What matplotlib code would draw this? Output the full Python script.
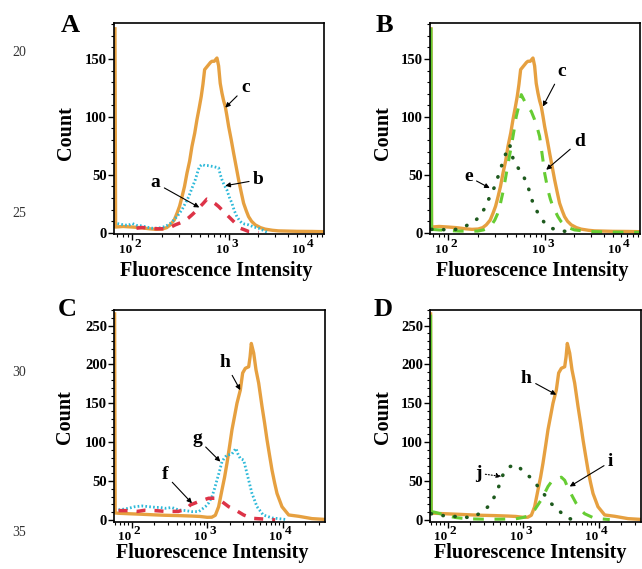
import matplotlib
matplotlib.use("Agg")
import matplotlib.pyplot as plt
from matplotlib.ticker import MultipleLocator, LogLocator, NullFormatter

plt.rcParams['font.family'] = ['Liberation Serif', 'DejaVu Serif']
plt.rcParams['font.weight'] = 'bold'

W, H = 642, 569

# ---- panel A / B : sample c (orange), a (red), b (cyan), d (green), e (dark green)
c_x = [66, 67, 80, 100, 120, 150, 175, 203, 226, 246, 270, 289, 307, 325, 345, 366, 390, 412,
       440, 464, 490, 514, 535, 557, 585, 612, 640, 663, 700, 747, 777, 807, 841, 875, 910, 946,
       986, 1050, 1110, 1180, 1250, 1330, 1407, 1500, 1584, 1700, 1855, 2100, 2350, 2800, 3228,
       5000, 7130, 9500]
c_y = [176, 5, 5.5, 5, 4.5, 3.5, 3, 3.3, 4.5, 6.9, 11, 17, 23, 31, 40, 51.5, 62, 74.5,
       86, 97.6, 108, 117.7, 128, 140.8, 143, 145, 147, 148, 148, 150.8, 144, 129, 120.6, 114, 109, 101,
       91.8, 80, 68.8, 57, 45.8, 35, 25.6, 19, 14, 10, 6.9, 4.5, 3.2, 2.2, 1.7,
       1.3, 1.2, 1]

b_x = [70, 80, 90, 100, 110, 125, 140, 160, 185, 219, 245, 267, 295, 325, 350, 381, 410, 446,
       470, 491, 523, 560, 600, 650, 700, 777, 810, 841, 890, 946, 1000, 1066, 1130, 1200, 1280,
       1352, 1450, 1584, 1800, 2009, 2200, 2350, 2500]
b_y = [8, 7, 6.5, 8, 6.5, 6, 5, 4, 4, 5.5, 8, 11, 15, 20, 25, 31, 38, 45.8,
       52, 57, 59, 58, 58, 57.5, 57, 56, 50, 45.8, 41, 37, 31, 25.6, 19, 14, 10.5,
       8.4, 7.5, 6.9, 5, 4, 2.5, 1.2, 0.3]

a_x = [110, 126, 150, 180, 210, 237, 277, 310, 339, 375, 412, 450, 483, 540, 589, 630, 663, 720,
       777, 860, 946, 1030, 1110, 1200, 1297, 1450, 1584, 2009]
a_y = [4, 4.6, 4, 3.5, 3.5, 4, 6.9, 8.5, 9.8, 12.5, 15.5, 18.5, 21.3, 25.5, 29.1, 28.5, 27, 25,
       22.7, 19, 15.5, 12.5, 9.8, 7, 4, 2.5, 1.2, 0.3]

d_x = [66, 67, 80, 100, 130, 160, 200, 230, 257, 280, 301, 320, 339, 370, 397, 420, 446, 475,
       502, 535, 566, 600, 637, 680, 718, 777, 825, 875, 946, 986, 1066, 1130, 1200, 1280, 1352,
       1450, 1584, 1800, 2009, 2750, 5000, 9500]
d_y = [177, 3, 2.5, 2, 1.5, 1.5, 1.5, 2.5, 4, 7, 11, 16, 22.7, 37, 51.5, 63, 74.5, 88,
       100.4, 110, 119.2, 115, 110.5, 107, 104.7, 97.6, 91, 83.2, 63, 51.5, 37, 29, 22.7, 18, 14,
       10, 6.9, 4, 2.5, 1.2, 0.6, 0.4]

e_x = [66, 67, 80, 100, 120, 147, 180, 210, 237, 267, 301, 339, 381, 430, 468, 515, 589, 663,
       747, 841, 986, 1153, 1462, 2000]
e_y = [177, 3, 3, 2.5, 3, 5.5, 8.9, 14, 21.3, 31, 40, 53, 66, 76, 63, 57, 50, 40,
       25.6, 17, 8.4, 4, 1.7, 0.5]

# ---- panel C / D : sample h (orange), f (red), g (cyan), i (green), j (dark green)
h_x = [59.5, 60.5, 67, 91, 137, 205, 279, 417, 629, 800, 1000, 1150, 1282, 1418, 1570, 1700, 1829,
       1980, 2130, 2300, 2480, 2746, 2950, 3200, 3545, 3700, 3840, 4130, 4430, 4806, 5320, 5750,
       6200, 6700, 7220, 7800, 8410, 9780, 12000, 16300, 24400, 36000]
h_y = [265, 9, 8.6, 8, 7.3, 6.5, 6, 5.6, 5, 4.5, 3.4, 3.5, 6, 17, 38.6, 55, 73,
       95, 116, 133, 150, 167, 189, 195, 197, 210, 227, 214.5, 193, 176, 146, 125,
       103, 83, 64, 48, 34, 17, 6.4, 4.7, 1.7, 0.7]

g_x = [67, 80, 91, 110, 137, 170, 205, 240, 279, 340, 417, 520, 629, 771, 944, 1050, 1158, 1250,
       1349, 1450, 1570, 1700, 1829, 1980, 2130, 2404, 2550, 2746, 3040, 3363, 3650, 3920, 4570,
       5520, 7220, 10800]
g_y = [13, 14, 15, 17, 18, 17, 16.3, 16, 15, 16, 12.9, 12, 10.7, 10.7, 17, 22, 30, 40,
       51.5, 62, 75, 80, 83.6, 84, 85, 92, 85, 79, 77, 60, 46, 34, 17,
       6.4, 2.6, 0.7]

f_x = [67, 91, 120, 150, 205, 279, 417, 530, 598, 771, 1047, 1282, 1570, 1928, 2355, 3040, 3920,
       5890, 7940]
f_y = [12, 12, 11, 12.5, 12, 11, 11, 14, 19.3, 23.6, 27.9, 27.9, 23.6, 17, 12.9, 6.4, 2.1,
       1, 0]

i_x = [59.5, 60.5, 67, 80, 100, 130, 180, 300, 500, 800, 980, 1158, 1418, 1740, 2130, 2404, 2800,
       3200, 3545, 3920, 4500, 5050, 5800, 6510, 8850, 14000]
i_y = [264, 10.7, 10, 8, 5, 3, 1.5, 1, 1, 1.5, 3, 5, 13, 26, 43, 50, 53,
       55, 51, 41, 30, 21, 13, 8, 2, 0.5]

j_x = [59.5, 60.5, 67, 80, 100, 150, 200, 279, 359, 440, 540, 661, 835, 1047, 1282, 1570, 1928,
       2355, 3040, 3920, 5000]
j_y = [264, 8, 7, 6, 5, 4, 3, 9, 19, 34, 58, 68.6, 70.7, 60, 54, 43, 32,
       21, 11, 2, 0]

ORANGE = '#E6A040'
CYAN = '#2DB9D9'
RED = '#DD3347'
LGREEN = '#66CC33'
DGREEN = '#1E5A1E'

fig = plt.figure(figsize=(W / 100, H / 100), dpi=100)


def add_ax(l, t, r, b):
    return fig.add_axes([l / W, 1 - b / H, (r - l) / W, (b - t) / H])


def ftext(x, y, s, **kw):
    fig.text(x / W, 1 - y / H, s, **kw)


def style(ax, xlim, ylim, ymajor, labx):
    ax.set_xscale('log')
    ax.set_xlim(*xlim)
    ax.set_ylim(*ylim)
    ax.yaxis.set_major_locator(MultipleLocator(ymajor))
    ax.yaxis.set_minor_locator(MultipleLocator(10))
    ax.xaxis.set_major_locator(LogLocator(base=10))
    ax.xaxis.set_minor_locator(LogLocator(base=10, subs=range(2, 10)))
    ax.xaxis.set_major_formatter(NullFormatter())
    ax.xaxis.set_minor_formatter(NullFormatter())
    ax.tick_params(axis='both', which='major', direction='out', length=4, width=1,
                   labelsize=10.5, pad=1)
    ax.tick_params(axis='both', which='minor', direction='out', length=2, width=0.8)
    for lab in ax.get_yticklabels():
        lab.set_fontweight('bold')
    for sp in ax.spines.values():
        sp.set_linewidth(1.2)
    for xt, ex in zip(labx, ['2', '3', '4']):
        ax.annotate('10', xy=(xt, 0), xycoords=('data', 'axes fraction'), xytext=(0, -10),
                    textcoords='offset pixels', ha='right', va='top', fontsize=9.5,
                    fontweight='bold', annotation_clip=False)
        ax.annotate(ex, xy=(xt, 0), xycoords=('data', 'axes fraction'), xytext=(2, -4),
                    textcoords='offset pixels', ha='left', va='top', fontsize=9.5,
                    fontweight='bold', annotation_clip=False)


def mark(ax, s, tip, txt, ls='-'):
    ax.annotate(s, xy=tip, xytext=txt, ha='center', va='center', fontsize=14,
                fontweight='bold',
                arrowprops=dict(arrowstyle='-|>', color='black', lw=0.8, ls=ls,
                                mutation_scale=7, shrinkA=1, shrinkB=0))


def histo(ax, xs, ys, color, **kw):
    # first channel (spike on the left spine) drawn solid, rest in the series style
    ax.plot(xs[:2], ys[:2], color=color, lw=2.2, solid_capstyle='butt')
    ax.plot(xs[1:], ys[1:], color=color, **kw)


solid = dict(color=ORANGE, lw=2.4, solid_joinstyle='round')
cyan_kw = dict(color=CYAN, lw=2.0, ls=(0, (0.6, 0.8)))
red_kw = dict(color=RED, lw=2.5, ls=(0, (2.6, 2.6)))
lg_kw = dict(lw=2.2, ls=(0, (3.5, 3.5)))
dg_kw = dict(lw=2.6, ls=(0, (0.1, 3.2)), dash_capstyle='round')

top_xlim = (64.5, 9530)
bot_xlim = (58.4, 36300)
top_labx = [100, 1000, 6050]
bot_labx = [100, 1000, 10000]

# A
axA = add_ax(114, 23, 324, 234)
axA.plot(c_x, c_y, **solid)
axA.plot(b_x, b_y, **cyan_kw)
axA.plot(a_x, a_y, **red_kw)
style(axA, top_xlim, (-1, 181), 50, top_labx)
mark(axA, 'c', (910, 108), (1462, 125))
mark(axA, 'b', (910, 40.6), (2010, 45.8))
mark(axA, 'a', (491, 21.9), (173, 43))

# B
axB = add_ax(430, 23, 640, 234)
axB.plot(c_x, c_y, **solid)
histo(axB, d_x, d_y, LGREEN, **lg_kw)
axB.plot(e_x[1:], e_y[1:], color=DGREEN, **dg_kw)
style(axB, top_xlim, (-1, 181), 50, top_labx)
mark(axB, 'c', (946, 109), (1462, 139))
mark(axB, 'd', (1024, 54.4), (2260, 79))
mark(axB, 'e', (267, 38.6), (160, 48.6))

# C
axC = add_ax(114, 310, 325, 521.5)
axC.plot(h_x, h_y, **solid)
axC.plot(g_x, g_y, **cyan_kw)
axC.plot(f_x, f_y, **red_kw)
style(axC, bot_xlim, (-2, 270), 50, bot_labx)
mark(axC, 'h', (2742, 167), (1738, 202))
mark(axC, 'g', (1493, 75), (733, 105))
mark(axC, 'f', (629, 21.5), (279, 58))

# D
axD = add_ax(430, 310, 641, 521.5)
axD.plot(h_x, h_y, **solid)
histo(axD, i_x, i_y, LGREEN, **lg_kw)
axD.plot(j_x[1:], j_y[1:], color=DGREEN, **dg_kw)
style(axD, bot_xlim, (-2, 270), 50, bot_labx)
mark(axD, 'h', (2742, 161), (1099, 182))
mark(axD, 'i', (4130, 43), (14400, 75))
mark(axD, 'j', (513, 56), (252, 60), ls=':')

# panel letters, axis titles
for s, x, y in [('A', 70, 25), ('B', 384, 26), ('C', 67, 310), ('D', 383, 310)]:
    ftext(x, y, s, ha='center', va='center', fontsize=19, fontweight='bold')
for x, y in [(66, 133), (383, 133), (65, 417), (383, 417)]:
    ftext(x, y, 'Count', ha='center', va='center', rotation=90, fontsize=14.5,
          fontweight='bold')
for x, y in [(216, 271), (532, 271), (212, 553), (530, 553)]:
    ftext(x, y, 'Fluorescence Intensity', ha='center', va='center', fontsize=14.5,
          fontweight='bold')

# line numbers in the margin
for s, y in [('20', 52), ('25', 213), ('30', 372), ('35', 532)]:
    ftext(19, y, s, ha='center', va='center', fontsize=10, fontweight='normal',
          color='#333333')

fig.savefig('out.png', dpi=100)
